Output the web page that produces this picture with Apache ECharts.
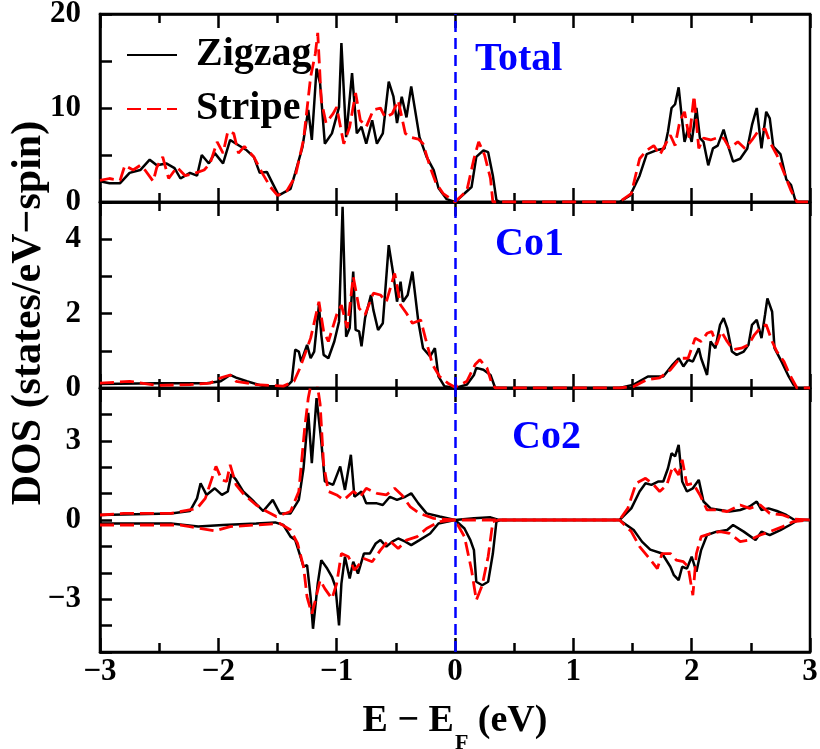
<!DOCTYPE html>
<html>
<head>
<meta charset="utf-8">
<script src="https://cdn.jsdelivr.net/npm/echarts@6.0.0/dist/echarts.min.js"></script>
<style>
  html, body { margin: 0; padding: 0; background: #fff; }
  #chart { width: 820px; height: 749px; }
</style>
</head>
<body>
<div id="chart"></div>
<script>
// Density of states, [E - E_F (eV), DOS] pairs.
const totalZigzag = [[-3.00,2.2],[-2.92,2.0],[-2.83,2.0],[-2.75,3.1],[-2.66,3.4],[-2.58,4.5],[-2.52,3.9],[-2.44,4.1],[-2.37,3.6],[-2.32,2.5],[-2.24,3.1],[-2.18,2.8],[-2.14,5.0],[-2.08,4.1],[-2.03,5.2],[-1.96,4.1],[-1.90,6.6],[-1.85,6.2],[-1.76,5.5],[-1.70,4.8],[-1.65,3.1],[-1.59,3.2],[-1.55,2.2],[-1.49,0.7],[-1.39,1.4],[-1.35,3.1],[-1.29,5.8],[-1.24,9.8],[-1.21,6.6],[-1.17,14.2],[-1.14,12.6],[-1.10,6.2],[-1.04,7.3],[-0.98,10.1],[-0.96,16.9],[-0.92,6.9],[-0.87,13.7],[-0.83,7.3],[-0.79,8.0],[-0.75,6.2],[-0.70,8.7],[-0.66,6.2],[-0.61,7.3],[-0.56,12.8],[-0.52,11.2],[-0.49,8.4],[-0.45,11.2],[-0.41,9.0],[-0.37,12.3],[-0.30,6.9],[-0.24,4.8],[-0.18,3.4],[-0.14,1.5],[-0.07,0.3],[0.00,0.0],[0.08,0.9],[0.14,1.6],[0.18,4.8],[0.24,5.5],[0.28,5.3],[0.32,2.8],[0.35,0.2],[0.38,0],[1.39,0],[1.48,0.7],[1.56,2.8],[1.62,5.1],[1.70,5.5],[1.77,5.7],[1.80,7.5],[1.83,10.0],[1.86,10.4],[1.89,12.2],[1.92,8.6],[1.94,6.4],[1.97,7.8],[2.00,6.4],[2.04,10.0],[2.07,6.8],[2.10,6.4],[2.14,3.9],[2.18,5.7],[2.22,6.0],[2.27,7.7],[2.31,5.9],[2.35,4.3],[2.41,4.6],[2.47,5.7],[2.51,8.2],[2.55,10.0],[2.59,5.7],[2.63,9.6],[2.66,8.9],[2.69,5.9],[2.75,5.1],[2.80,2.4],[2.84,1.8],[2.88,0],[3.00,0]];
const totalStripe = [[-3.00,2.3],[-2.92,2.5],[-2.83,2.3],[-2.79,3.9],[-2.72,3.4],[-2.66,3.9],[-2.62,3.4],[-2.55,2.2],[-2.52,3.7],[-2.47,4.8],[-2.42,2.5],[-2.35,3.7],[-2.28,2.8],[-2.21,3.0],[-2.12,3.4],[-2.07,4.1],[-2.01,6.4],[-1.96,5.2],[-1.92,7.5],[-1.87,7.3],[-1.83,5.2],[-1.78,5.9],[-1.70,4.8],[-1.63,3.1],[-1.56,1.6],[-1.50,0.7],[-1.42,1.2],[-1.35,2.7],[-1.28,6.6],[-1.22,13.3],[-1.18,15.8],[-1.16,18.0],[-1.13,10.8],[-1.09,8.4],[-1.03,9.4],[-1.00,10.1],[-0.94,6.2],[-0.89,8.0],[-0.84,11.6],[-0.80,8.7],[-0.75,8.0],[-0.69,9.8],[-0.63,10.0],[-0.59,9.0],[-0.53,9.4],[-0.48,10.8],[-0.42,7.3],[-0.38,6.9],[-0.31,6.7],[-0.27,6.2],[-0.21,3.7],[-0.16,2.0],[-0.10,0.9],[0.00,0.0],[0.10,1.2],[0.16,4.6],[0.20,6.4],[0.25,5.0],[0.30,2.5],[0.32,0],[1.39,0],[1.49,0.9],[1.56,4.6],[1.62,5.5],[1.68,6.0],[1.73,5.0],[1.82,7.1],[1.86,6.0],[1.90,8.6],[1.94,9.6],[1.98,6.8],[2.02,11.3],[2.06,5.7],[2.10,6.8],[2.16,6.6],[2.21,6.8],[2.27,6.8],[2.32,5.7],[2.39,6.4],[2.45,5.7],[2.51,6.6],[2.56,7.5],[2.62,7.8],[2.66,6.4],[2.72,5.0],[2.79,2.8],[2.84,1.2],[2.89,0],[3.00,0]];

const co1Zigzag = [[-3.00,0.11],[-2.52,0.13],[-2.10,0.13],[-1.98,0.18],[-1.90,0.35],[-1.85,0.28],[-1.76,0.18],[-1.62,0.05],[-1.42,0.05],[-1.38,0.18],[-1.35,1.03],[-1.32,0.98],[-1.30,0.71],[-1.25,1.16],[-1.22,0.80],[-1.19,0.98],[-1.15,2.23],[-1.13,1.43],[-1.11,0.89],[-1.07,0.80],[-1.02,1.25],[-0.98,1.79],[-0.95,4.87],[-0.92,1.38],[-0.89,1.61],[-0.86,3.13],[-0.84,1.56],[-0.81,1.52],[-0.79,1.12],[-0.76,1.88],[-0.71,2.50],[-0.69,2.10],[-0.65,1.56],[-0.61,1.74],[-0.56,3.84],[-0.52,3.03],[-0.49,2.32],[-0.46,2.86],[-0.44,2.32],[-0.40,2.50],[-0.36,3.13],[-0.31,1.79],[-0.27,1.07],[-0.21,0.85],[-0.17,1.07],[-0.14,0.31],[-0.09,0.05],[0.00,0.00],[0.10,0.09],[0.16,0.35],[0.18,0.54],[0.24,0.49],[0.30,0.35],[0.34,0],[1.39,0],[1.51,0.09],[1.63,0.31],[1.76,0.31],[1.84,0.63],[1.89,0.80],[1.93,0.58],[1.97,0.76],[2.01,0.71],[2.06,1.07],[2.08,0.80],[2.13,0.35],[2.16,1.25],[2.20,1.07],[2.24,1.70],[2.27,1.88],[2.30,1.61],[2.34,0.98],[2.38,0.89],[2.44,0.98],[2.48,1.16],[2.51,1.70],[2.55,1.83],[2.59,1.34],[2.62,1.97],[2.64,2.41],[2.68,2.05],[2.70,1.07],[2.76,0.71],[2.82,0.31],[2.86,0.09],[2.89,0],[3.00,0]];
const co1Stripe = [[-3.00,0.13],[-2.75,0.18],[-2.52,0.07],[-2.24,0.09],[-2.07,0.13],[-1.98,0.27],[-1.90,0.35],[-1.85,0.18],[-1.68,0.09],[-1.45,0.05],[-1.36,0.18],[-1.31,0.54],[-1.22,1.34],[-1.15,2.32],[-1.11,1.52],[-1.07,1.25],[-1.00,1.97],[-0.96,2.23],[-0.91,1.61],[-0.86,2.99],[-0.81,2.14],[-0.76,1.97],[-0.69,2.55],[-0.63,2.50],[-0.58,2.32],[-0.51,3.08],[-0.46,2.23],[-0.41,2.01],[-0.36,1.74],[-0.29,1.83],[-0.25,1.34],[-0.19,0.63],[-0.13,0.31],[-0.06,0.13],[0.00,0.02],[0.10,0.18],[0.17,0.63],[0.21,0.76],[0.27,0.54],[0.31,0.13],[0.34,0],[1.39,0],[1.51,0.04],[1.62,0.22],[1.73,0.27],[1.82,0.49],[1.90,0.80],[1.97,0.80],[2.03,1.34],[2.08,1.25],[2.13,1.47],[2.17,1.52],[2.21,1.16],[2.25,1.52],[2.30,1.25],[2.35,1.03],[2.42,1.07],[2.48,1.16],[2.53,1.43],[2.59,1.65],[2.63,1.70],[2.68,1.25],[2.72,0.98],[2.78,0.71],[2.83,0.35],[2.89,0],[3.00,0]];

// Co2: spin-up (positive) and spin-down (negative) channels
const co2UpZigzag = [[-3.00,0.19],[-2.40,0.25],[-2.24,0.34],[-2.18,0.82],[-2.15,1.39],[-2.10,0.95],[-2.03,1.20],[-1.97,0.95],[-1.92,1.08],[-1.89,1.74],[-1.85,1.52],[-1.79,1.08],[-1.70,0.70],[-1.62,0.34],[-1.54,0.76],[-1.48,0.25],[-1.39,0.25],[-1.32,0.76],[-1.28,1.96],[-1.24,4.06],[-1.21,2.15],[-1.17,4.62],[-1.13,2.98],[-1.10,1.46],[-1.03,1.33],[-0.97,2.03],[-0.93,1.14],[-0.88,2.47],[-0.85,0.88],[-0.79,1.08],[-0.75,0.63],[-0.66,0.63],[-0.61,0.57],[-0.55,0.88],[-0.49,0.76],[-0.42,0.88],[-0.37,1.01],[-0.31,0.63],[-0.24,0.25],[-0.13,0.13],[0.00,0.00],[0.16,0.07],[0.30,0.10],[0.37,0],[1.39,0],[1.49,0.44],[1.56,1.08],[1.61,1.39],[1.66,1.33],[1.72,1.46],[1.76,1.46],[1.80,1.96],[1.83,2.53],[1.86,2.41],[1.89,2.85],[1.92,1.46],[1.96,1.08],[2.01,1.20],[2.06,1.52],[2.10,0.70],[2.16,0.44],[2.24,0.38],[2.32,0.32],[2.41,0.38],[2.49,0.51],[2.55,0.70],[2.59,0.38],[2.65,0.44],[2.72,0.34],[2.80,0.19],[2.87,0],[3.00,0]];
const co2UpStripe = [[-3.00,0.19],[-2.80,0.25],[-2.40,0.25],[-2.18,0.44],[-2.11,0.82],[-2.02,2.03],[-1.97,1.52],[-1.93,1.46],[-1.90,2.09],[-1.85,1.33],[-1.78,0.95],[-1.68,0.57],[-1.59,0.32],[-1.51,0.13],[-1.39,0.32],[-1.32,1.08],[-1.27,3.49],[-1.24,4.62],[-1.21,5.3],[-1.17,5.3],[-1.14,4.4],[-1.11,2.09],[-1.07,1.08],[-1.00,0.95],[-0.94,0.76],[-0.86,1.08],[-0.80,0.88],[-0.75,1.20],[-0.66,1.01],[-0.58,0.95],[-0.51,1.20],[-0.45,0.95],[-0.38,0.51],[-0.30,0.25],[-0.18,0.06],[0.00,0.00],[1.39,0],[1.46,0.44],[1.53,1.39],[1.61,1.58],[1.68,1.33],[1.73,1.08],[1.79,1.33],[1.84,2.03],[1.89,1.71],[1.92,2.28],[1.96,1.33],[2.01,1.39],[2.07,0.95],[2.13,0.38],[2.21,0.38],[2.30,0.32],[2.41,0.57],[2.49,0.44],[2.58,0.57],[2.66,0.25],[2.77,0.19],[2.86,0.04],[3.00,0]];
const co2DownZigzag = [[-3.00,-0.13],[-2.40,-0.13],[-2.17,-0.25],[-1.96,-0.19],[-1.68,-0.13],[-1.52,-0.09],[-1.45,-0.19],[-1.39,-0.63],[-1.35,-0.76],[-1.31,-1.33],[-1.28,-1.77],[-1.25,-1.71],[-1.22,-2.92],[-1.20,-4.12],[-1.16,-2.41],[-1.13,-1.52],[-1.08,-1.84],[-1.04,-2.15],[-1.01,-2.53],[-0.98,-3.99],[-0.96,-2.41],[-0.93,-1.39],[-0.89,-2.22],[-0.86,-1.58],[-0.82,-2.03],[-0.77,-1.27],[-0.72,-1.27],[-0.67,-0.89],[-0.63,-0.76],[-0.58,-1.01],[-0.53,-0.82],[-0.48,-0.70],[-0.42,-0.82],[-0.37,-0.95],[-0.30,-0.76],[-0.21,-0.51],[-0.14,-0.13],[0.00,0.00],[0.08,-0.32],[0.13,-0.76],[0.16,-1.14],[0.18,-2.34],[0.23,-2.47],[0.28,-2.34],[0.32,-1.27],[0.35,-0.06],[0.38,0],[1.39,0],[1.51,-0.38],[1.58,-0.82],[1.65,-1.12],[1.75,-1.27],[1.82,-1.77],[1.85,-2.09],[1.89,-2.28],[1.92,-1.77],[1.96,-1.84],[2.00,-1.39],[2.04,-1.96],[2.08,-1.14],[2.13,-0.57],[2.21,-0.44],[2.30,-0.38],[2.35,-0.19],[2.44,-0.44],[2.54,-0.76],[2.59,-0.44],[2.66,-0.57],[2.75,-0.38],[2.83,-0.19],[2.90,0],[3.00,0]];
const co2DownStripe = [[-3.00,-0.19],[-2.32,-0.19],[-2.24,-0.25],[-2.03,-0.41],[-1.90,-0.25],[-1.68,-0.19],[-1.48,-0.13],[-1.39,-0.38],[-1.33,-0.89],[-1.28,-1.77],[-1.25,-2.92],[-1.21,-3.55],[-1.18,-3.04],[-1.14,-2.28],[-1.10,-2.60],[-1.04,-2.98],[-1.00,-2.41],[-0.96,-1.27],[-0.90,-1.39],[-0.85,-1.90],[-0.77,-1.46],[-0.70,-1.58],[-0.63,-1.14],[-0.56,-0.76],[-0.48,-1.08],[-0.41,-0.76],[-0.32,-0.63],[-0.24,-0.32],[-0.13,-0.06],[0.00,0.00],[0.08,-0.63],[0.14,-1.90],[0.18,-3.04],[0.23,-2.47],[0.28,-1.39],[0.32,-0.06],[0.37,0],[1.39,0],[1.49,-0.44],[1.56,-1.01],[1.63,-1.39],[1.71,-1.84],[1.75,-1.27],[1.82,-1.27],[1.87,-1.52],[1.93,-1.58],[1.97,-1.77],[2.01,-2.85],[2.04,-1.27],[2.08,-0.63],[2.16,-0.51],[2.24,-0.44],[2.32,-0.51],[2.41,-0.82],[2.49,-0.76],[2.58,-0.57],[2.66,-0.44],[2.77,-0.25],[2.86,-0.06],[3.00,0]];

// Axis ranges and labelled ticks
const energyRange = [-3, 3];
const panelNames = ['Total', 'Co1', 'Co2'];
const yRanges = [[0, 20], [0, 5], [-5, 5]];
const yTickSteps = [5, 1, 1];
const yTickLabels = [[0, 10, 20], [0, 2, 4], [-3, 0, 3]];
const seriesNames = ['Zigzag', 'Stripe'];

const FONT = "'Liberation Serif', 'Times New Roman', Times, serif";
const BLACK = '#000000', RED = '#ff0000', BLUE = '#0000ff';

// Panel layout (pixels)
const plotLeft = 100, plotWidth = 710;
const panelBoxes = [
  { top: 14, height: 188 },
  { top: 202, height: 186 },
  { top: 388, height: 264 }
];
const labelBoxes = [
  { x: 475, y: 60 },
  { x: 495, y: 245 },
  { x: 512, y: 438 }
];

const minus = v => String(v).replace('-', '\u2212');
const frame = { color: BLACK, width: 2.5 };

const grids = panelBoxes.map(b => ({
  left: plotLeft, width: plotWidth, top: b.top, height: b.height,
  show: true, borderColor: BLACK, borderWidth: 2.5,
  containLabel: false, outerBoundsMode: 'none'
}));

const xAxes = [];
panelBoxes.forEach((b, g) => {
  ['bottom', 'top'].forEach(pos => {
    const labelled = (g === 2 && pos === 'bottom');
    xAxes.push({
      type: 'value', gridIndex: g, position: pos,
      min: energyRange[0], max: energyRange[1], interval: 1,
      axisLine: { show: true, onZero: false, lineStyle: frame },
      axisTick: { show: true, inside: true, length: 14, lineStyle: frame },
      minorTick: { show: true, splitNumber: 2, length: 9, lineStyle: frame },
      splitLine: { show: false },
      minorSplitLine: { show: false },
      axisLabel: {
        show: labelled, margin: 4, formatter: minus,
        fontFamily: FONT, fontWeight: 'bold', fontSize: 31, color: BLACK
      },
      name: labelled ? '{a|E \u2212 E}{b|F}{a| (eV)}' : '',
      nameLocation: 'middle', nameGap: 36,
      nameTextStyle: {
        fontFamily: FONT, fontWeight: 'bold', color: BLACK,
        rich: {
          a: { fontFamily: FONT, fontWeight: 'bold', fontSize: 38, color: BLACK },
          b: { fontFamily: FONT, fontWeight: 'bold', fontSize: 22, color: BLACK, padding: [44, 0, 0, 1] }
        }
      }
    });
  });
});

const yAxes = panelBoxes.map((b, g) => ({
  type: 'value', gridIndex: g,
  min: yRanges[g][0], max: yRanges[g][1], interval: yTickSteps[g],
  axisLine: { show: true, onZero: false, lineStyle: frame },
  axisTick: { show: true, inside: true, length: 12, lineStyle: frame },
  splitLine: { show: false },
  axisLabel: {
    margin: 19, fontFamily: FONT, fontWeight: 'bold', fontSize: 31, color: BLACK,
    showMinLabel: true, showMaxLabel: true,
    formatter: v => yTickLabels[g].some(t => Math.abs(t - v) < 1e-9) ? minus(v) : ''
  }
}));

const fermiLine = {
  silent: true, symbol: ['none', 'none'], animation: false,
  label: { show: false },
  lineStyle: { color: BLUE, width: 2.5, type: [11, 6] },
  data: [{ xAxis: 0 }]
};

function curve(name, data, g, dashed, withFermi) {
  const s = {
    name, type: 'line', data, xAxisIndex: 2 * g, yAxisIndex: g,
    symbol: 'none', showSymbol: false, animation: false, clip: true,
    lineStyle: dashed
      ? { color: RED, width: 2.8, type: [14, 6] }
      : { color: BLACK, width: 2.5 },
    itemStyle: { color: dashed ? RED : BLACK },
    z: dashed ? 3 : 2
  };
  if (withFermi) s.markLine = fermiLine;
  return s;
}

const series = [
  curve(seriesNames[0], totalZigzag, 0, false, true),
  curve(seriesNames[1], totalStripe, 0, true, false),
  curve(seriesNames[0], co1Zigzag, 1, false, true),
  curve(seriesNames[1], co1Stripe, 1, true, false),
  curve(seriesNames[0], co2UpZigzag, 2, false, true),
  curve(seriesNames[0], co2DownZigzag, 2, false, false),
  curve(seriesNames[1], co2UpStripe, 2, true, false),
  curve(seriesNames[1], co2DownStripe, 2, true, false)
];

const graphic = labelBoxes.map((p, i) => ({
  type: 'text', x: p.x, y: p.y, silent: true,
  style: {
    text: panelNames[i], fill: BLUE,
    font: "bold 40px " + FONT, align: 'left', verticalAlign: 'middle'
  }
}));
graphic.push({
  type: 'text', x: 29, y: 313, rotation: Math.PI / 2, silent: true,
  style: {
    text: 'DOS (states/eV\u2212spin)', fill: BLACK,
    font: "bold 42px " + FONT, align: 'center', verticalAlign: 'middle'
  }
});

const chart = echarts.init(document.getElementById('chart'), null, { renderer: 'canvas' });
chart.setOption({
  animation: false,
  backgroundColor: '#ffffff',
  grid: grids,
  xAxis: xAxes,
  yAxis: yAxes,
  legend: {
    data: seriesNames, orient: 'vertical', left: 121, top: 30,
    itemWidth: 50, itemHeight: 20, itemGap: 14, selectedMode: false,
    itemStyle: { color: 'rgba(0,0,0,0)', borderColor: 'rgba(0,0,0,0)', borderWidth: 0, opacity: 0 },
    textStyle: {
      fontFamily: FONT, fontWeight: 'bold', fontSize: 40, color: BLACK,
      lineHeight: 40, padding: [0, 0, 0, 14]
    }
  },
  graphic,
  series
});
</script>
</body>
</html>
